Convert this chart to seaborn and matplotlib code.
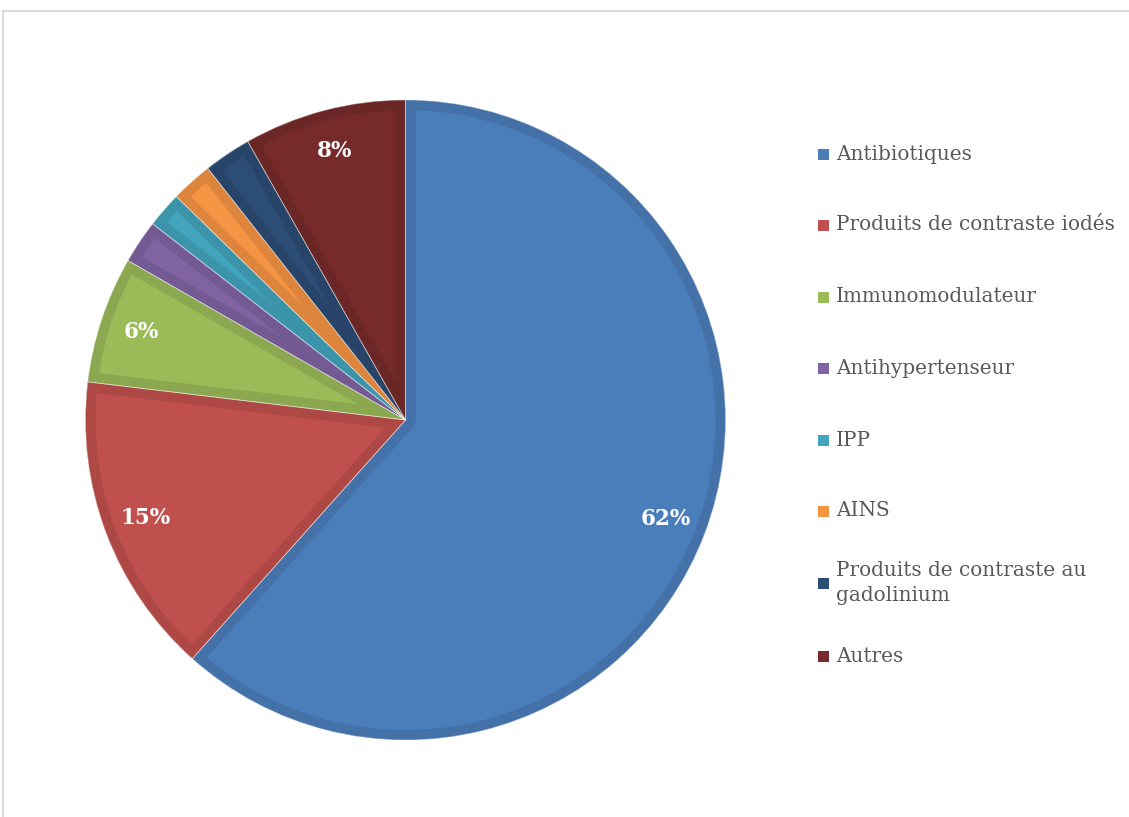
import matplotlib
matplotlib.use("Agg")
import matplotlib.pyplot as plt
import matplotlib.colors as mcolors
from matplotlib.patches import Rectangle, Wedge
import seaborn as sns

# Share of cases by drug class (percent)
categories = [
    "Antibiotiques",
    "Produits de contraste iodés",
    "Immunomodulateur",
    "Antihypertenseur",
    "IPP",
    "AINS",
    "Produits de contraste au\ngadolinium",
    "Autres",
]
shares = [61.6, 15.3, 6.4, 2.2, 1.8, 2.1, 2.4, 8.2]
slice_colors = ["#4A7EBB", "#C0504D", "#9BBB59", "#8064A2",
                "#43A4BE", "#F59443", "#2C4D75", "#772A2A"]

sns.set_theme(style="white")
plt.rcParams["font.family"] = ["DejaVu Serif"]

W, H, DPI = 1129, 817, 100
fig = plt.figure(figsize=(W / DPI, H / DPI), dpi=DPI)
fig.patch.set_facecolor("white")

# light frame around the chart area
fig.add_artist(Rectangle((3 / W, -0.05), 1.2, (H - 11) / H + 0.05,
                         transform=fig.transFigure, fill=False,
                         edgecolor="#D9D9D9", linewidth=1.5))

# pie axes: centre (405, 420) px, radius 320 px
cx, cy, r = 405.5, 420, 320
ax = fig.add_axes([(cx - r) / W, (H - cy - r) / H, 2 * r / W, 2 * r / H])


def pct_label(p):
    return f"{p:.0f}%" if p >= 5 else ""


wedges, texts, autotexts = ax.pie(
    shares, colors=slice_colors, startangle=90, counterclock=False,
    autopct=pct_label, pctdistance=0.87,
    textprops=dict(color="white", fontsize=15.5, fontweight="bold"),
    wedgeprops=dict(linewidth=0),
)
ax.set_xlim(-1, 1)
ax.set_ylim(-1, 1)
ax.set_aspect("equal")

# darker inner band along each slice outline: a thick outline clipped
# to the slice itself so only its inner half shows
for w, c in zip(wedges, slice_colors):
    band = tuple(v * 0.9 for v in mcolors.to_rgb(c))
    outline = Wedge(w.center, w.r, w.theta1, w.theta2, facecolor="none",
                    edgecolor=band, linewidth=14.5, joinstyle="round",
                    zorder=w.get_zorder() + 0.1)
    ax.add_patch(outline)
    outline.set_clip_path(w)
    sep = Wedge(w.center, w.r, w.theta1, w.theta2, facecolor="none",
                edgecolor=(1, 1, 1, 0.45), linewidth=0.6,
                zorder=w.get_zorder() + 0.2)
    ax.add_patch(sep)

ax.axis("off")

# legend drawn on the right
leg_y = [154, 225, 297, 368, 440, 511, 583, 656]
for name, c, y in zip(categories, slice_colors, leg_y):
    fig.add_artist(Rectangle((818 / W, (H - y - 6) / H), 11 / W, 11 / H,
                             transform=fig.transFigure, facecolor=c,
                             edgecolor="none"))
    fig.text(836 / W, (H - y) / H, name, fontsize=14.4, color="#595959",
             va="center", ha="left", linespacing=1.45)

fig.savefig("out.png", dpi=DPI)
